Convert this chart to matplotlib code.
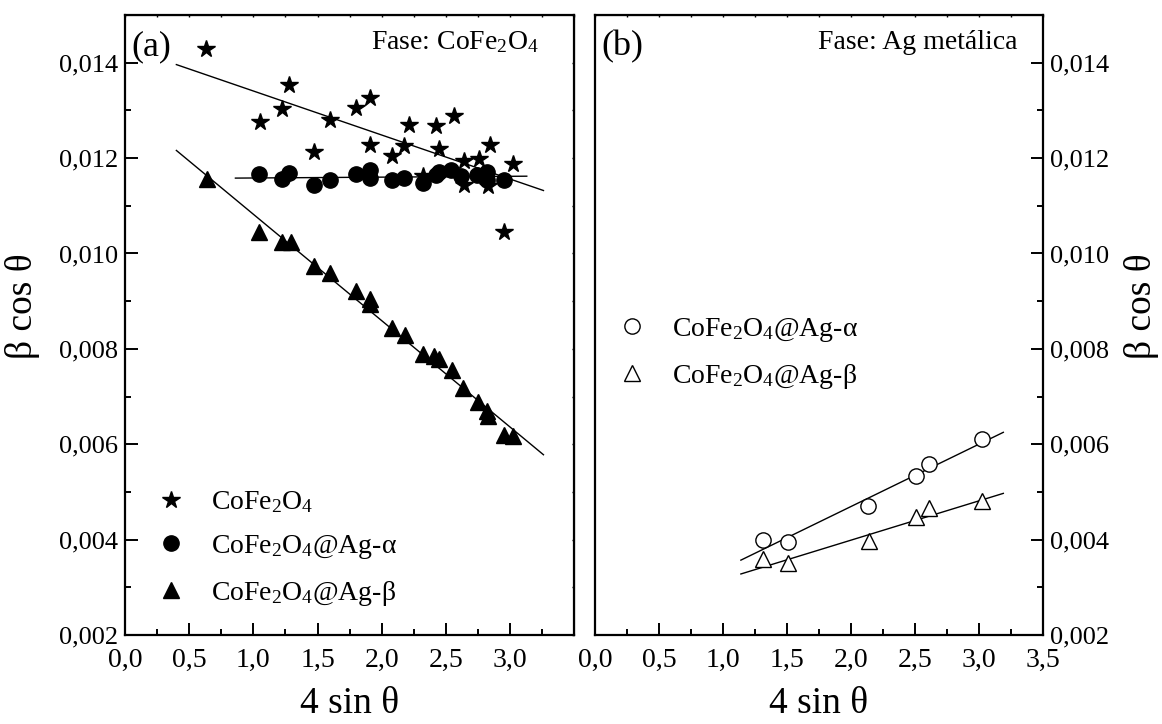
import numpy as np
import matplotlib
matplotlib.use('Agg')
import matplotlib.pyplot as plt
from matplotlib.ticker import FuncFormatter, MultipleLocator, NullFormatter

plt.rcParams['font.family'] = ['Liberation Serif', 'DejaVu Serif']
plt.rcParams['mathtext.fontset'] = 'custom'
plt.rcParams['mathtext.rm'] = 'Liberation Serif'
plt.rcParams['mathtext.it'] = 'Liberation Serif:italic'

# panel (a): CoFe2O4 phase
star_x = [0.63, 1.05, 1.22, 1.28, 1.47, 1.60, 1.80, 1.91, 1.91, 2.08, 2.17, 2.21,
          2.32, 2.42, 2.45, 2.56, 2.64, 2.64, 2.76, 2.84, 2.83, 3.02, 2.95]
star_y = [0.01428, 0.01275, 0.01302, 0.01354, 0.01213, 0.01279, 0.01304, 0.01325,
          0.01227, 0.01204, 0.01225, 0.01269, 0.01162, 0.01267, 0.01218, 0.01288,
          0.01193, 0.01144, 0.01198, 0.01228, 0.01142, 0.01188, 0.01046]
circ_x = [1.04, 1.22, 1.28, 1.47, 1.60, 1.80, 1.91, 1.91, 2.08, 2.17, 2.32, 2.42,
          2.45, 2.54, 2.62, 2.74, 2.82, 2.82, 2.95]
circ_y = [0.01167, 0.01157, 0.01169, 0.01144, 0.01153, 0.01167, 0.01174, 0.01158,
          0.01153, 0.01158, 0.01147, 0.01165, 0.01170, 0.01174, 0.01162, 0.01165,
          0.01171, 0.01155, 0.01155]
tri_x = [0.64, 1.04, 1.22, 1.29, 1.47, 1.60, 1.80, 1.91, 1.91, 2.08, 2.18, 2.32,
         2.41, 2.45, 2.55, 2.63, 2.75, 2.82, 2.83, 2.95, 3.02]
tri_y = [0.01157, 0.01045, 0.01025, 0.01025, 0.00973, 0.00959, 0.00922, 0.00905,
         0.00894, 0.00844, 0.00828, 0.00790, 0.00784, 0.00779, 0.00755, 0.00718,
         0.00688, 0.00669, 0.00660, 0.00620, 0.00618]

# fitted lines (a), end points
fit_star_x = [0.40, 3.26]
fit_star_y = [0.01396, 0.01132]
fit_circ_x = [0.86, 3.13]
fit_circ_y = [0.01158, 0.01162]
fit_tri_x = [0.40, 3.26]
fit_tri_y = [0.01216, 0.00578]

# panel (b): metallic Ag phase
ag_a_x = [1.31, 1.51, 2.13, 2.51, 2.61, 3.02]
ag_a_y = [0.00399, 0.00396, 0.00471, 0.00534, 0.00559, 0.00611]
ag_b_x = [1.31, 1.51, 2.14, 2.51, 2.61, 3.02]
ag_b_y = [0.00359, 0.00352, 0.00398, 0.00448, 0.00466, 0.00482]
fit_ag_a_x = [1.14, 3.19]
fit_ag_a_y = [0.00357, 0.00625]
fit_ag_b_x = [1.14, 3.19]
fit_ag_b_y = [0.00328, 0.00497]

fig = plt.figure(figsize=(11.62, 7.24), dpi=100)
axa = fig.add_axes([0.1076, 0.1229, 0.3866, 0.8564])
axb = fig.add_axes([0.5120, 0.1229, 0.3856, 0.8564])

yfmt = FuncFormatter(lambda v, p: f"{v:.3f}".replace('.', ','))
xfmt = FuncFormatter(lambda v, p: f"{v:.1f}".replace('.', ','))

for ax in (axa, axb):
    ax.set_xlim(0, 3.5)
    ax.set_ylim(0.002, 0.015)
    ax.yaxis.set_major_locator(MultipleLocator(0.002))
    ax.yaxis.set_minor_locator(MultipleLocator(0.001))
    ax.xaxis.set_minor_locator(MultipleLocator(0.25))
    ax.yaxis.set_major_formatter(yfmt)
    ax.xaxis.set_major_formatter(xfmt)
    for s in ax.spines.values():
        s.set_linewidth(1.6)
    ax.tick_params(which='both', direction='in', width=1.4)
    ax.tick_params(which='major', length=9)
    ax.tick_params(which='minor', length=4.5)
    ax.tick_params(axis='x', labelsize=20, pad=9)
    ax.tick_params(axis='y', labelsize=19, pad=5)
    ax.set_xlabel('4 sin θ', fontsize=27, labelpad=10)
    # faint ticks along the top edge
    top = ax.secondary_xaxis('top')
    top.xaxis.set_major_locator(MultipleLocator(0.5))
    top.xaxis.set_minor_locator(MultipleLocator(0.25))
    top.xaxis.set_major_formatter(NullFormatter())
    top.tick_params(which='both', direction='in', length=1.2, width=1.0)

axa.set_xticks([0.0, 0.5, 1.0, 1.5, 2.0, 2.5, 3.0])
axb.set_xticks([0.0, 0.5, 1.0, 1.5, 2.0, 2.5, 3.0, 3.5])

right_a = axa.secondary_yaxis('right')
right_a.yaxis.set_major_locator(MultipleLocator(0.002))
right_a.yaxis.set_minor_locator(MultipleLocator(0.001))
right_a.yaxis.set_major_formatter(NullFormatter())
right_a.tick_params(which='both', direction='in', length=1.2, width=1.0)

axb.tick_params(axis='y', which='both', left=False, right=True, labelleft=False, labelright=True)
axb.yaxis.set_label_position('right')

axa.set_ylabel('β cos θ', fontsize=27)
axa.yaxis.set_label_coords(-0.19, 0.53)
axb.set_ylabel('β cos θ', fontsize=27)
axb.yaxis.set_label_coords(1.18, 0.53)

lw = 1.0
axa.plot(fit_star_x, fit_star_y, color='black', lw=lw)
axa.plot(fit_circ_x, fit_circ_y, color='black', lw=lw)
axa.plot(fit_tri_x, fit_tri_y, color='black', lw=lw)
axa.plot(star_x, star_y, linestyle='none', marker='*', ms=13, color='black',
         label=r'CoFe$_2$O$_4$')
axa.plot(circ_x, circ_y, linestyle='none', marker='o', ms=11, color='black',
         label=r'CoFe$_2$O$_4$@Ag-α')
axa.plot(tri_x, tri_y, linestyle='none', marker='^', ms=12, color='black',
         label=r'CoFe$_2$O$_4$@Ag-β')
axa.legend(loc='upper left', bbox_to_anchor=(0.0, 0.275), frameon=False,
           fontsize=20, handletextpad=0.7, labelspacing=0.64, handlelength=1.5)

axb.plot(fit_ag_a_x, fit_ag_a_y, color='black', lw=lw)
axb.plot(fit_ag_b_x, fit_ag_b_y, color='black', lw=lw)
axb.plot(ag_a_x, ag_a_y, linestyle='none', marker='o', ms=11, mfc='white',
         mec='black', mew=1.0, label=r'CoFe$_2$O$_4$@Ag-α')
axb.plot(ag_b_x, ag_b_y, linestyle='none', marker='^', ms=12, mfc='white',
         mec='black', mew=1.0, label=r'CoFe$_2$O$_4$@Ag-β')
axb.legend(loc='upper left', bbox_to_anchor=(-0.02, 0.555), frameon=False,
           fontsize=20, handletextpad=0.7, labelspacing=0.64, handlelength=1.5)

axa.text(0.015, 0.975, '(a)', transform=axa.transAxes, fontsize=26, va='top', ha='left')
axb.text(0.015, 0.975, '(b)', transform=axb.transAxes, fontsize=26, va='top', ha='left')
axa.text(0.921, 0.945, r'Fase: CoFe$_2$O$_4$', transform=axa.transAxes, fontsize=20,
         va='baseline', ha='right')
axb.text(0.942, 0.945, 'Fase: Ag metálica', transform=axb.transAxes, fontsize=20,
         va='baseline', ha='right')

fig.savefig('out.png', dpi=100)
